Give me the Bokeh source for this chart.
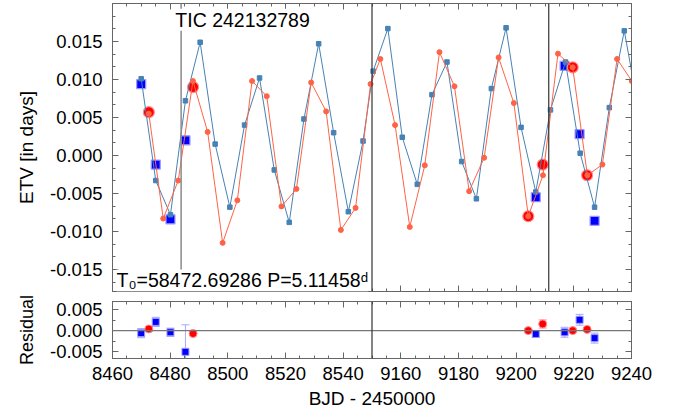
from bokeh.plotting import figure
from bokeh.layouts import column
from bokeh.models import (FixedTicker, LinearAxis, Span, Label, Whisker,
                          ColumnDataSource, TeeHead, Range1d)
from bokeh.embed import file_html
from bokeh.resources import INLINE

# ---------------- data (BJD - 2450000, days) ----------------
blue_model_x = [8469.95, 8475.0, 8480.1, 8485.3, 8490.4, 8495.6, 8500.7, 8505.8,
                8511.0, 8516.1, 8521.3, 8526.4, 8531.5, 8536.7, 8541.8, 8546.9,
                9150.4, 9155.5, 9160.5, 9165.7, 9170.8, 9176.0, 9181.1, 9186.2,
                9191.4, 9196.5, 9201.7, 9206.8, 9211.9, 9217.1, 9222.2, 9227.2,
                9232.3, 9237.5, 9242.6]
blue_model_y = [0.0101, -0.0033, -0.0078, 0.0072, 0.0149, 0.0015, -0.0068, 0.0040,
                0.0102, -0.0019, -0.0088, 0.0048, 0.0147, 0.0030, -0.0074, 0.0019,
                0.0111, 0.0167, 0.0024, -0.0038, 0.0080, 0.0123, -0.0008, -0.0057,
                0.0088, 0.0168, 0.0037, -0.0048, 0.0060, 0.0123, 0.0003, -0.0068,
                0.0063, 0.0164, 0.0057]
red_model_x = [8472.6, 8477.6, 8482.8, 8487.9, 8493.0, 8498.2, 8503.3, 8508.4,
               8513.5, 8518.6, 8523.8, 8528.9, 8534.1, 8539.2, 8544.3, 8549.5,
               9152.9, 9158.0, 9163.1, 9168.3, 9173.4, 9178.6, 9183.7, 9188.9,
               9193.9, 9199.2, 9204.2, 9209.3, 9214.5, 9219.6, 9224.7, 9229.9,
               9235.0, 9240.1]
red_model_y = [0.0055, -0.0083, -0.0033, 0.0098, 0.0031, -0.0115, -0.0059, 0.0098,
               0.0078, -0.0067, -0.0044, 0.0096, 0.0058, -0.0098, -0.0069, 0.0094,
               0.0127, 0.0040, -0.0094, -0.0013, 0.0136, 0.0091, -0.0047, -0.0003,
               0.0129, 0.0069, -0.0080, -0.0026, 0.0134, 0.0116, -0.0026, -0.0012,
               0.0127, 0.0098]

blue_obs_x = [8469.95, 8475.0, 8480.1, 8485.3, 9206.8, 9216.8, 9222.0, 9227.2]
blue_obs_y = [0.0094, -0.0012, -0.0084, 0.0020, -0.0055, 0.0118, 0.0028, -0.0086]
blue_res = [-0.0006, 0.0021, -0.0004, -0.0051, -0.0008, -0.0004, 0.0026, -0.0018]
blue_err = [0.0011, 0.0011, 0.0010, 0.0065, 0.0008, 0.0012, 0.0013, 0.0012]

red_obs_x = [8472.6, 8487.95, 9204.2, 9209.2, 9219.6, 9224.6]
red_obs_y = [0.0057, 0.0090, -0.0080, -0.0012, 0.0116, -0.0026]
red_res = [0.0004, -0.0007, 0.0000, 0.0016, 0.0000, 0.0003]
red_err = [0.0005, 0.0005, 0.0004, 0.0010, 0.0004, 0.0004]

x_ticks_left = [8460, 8480, 8500, 8520, 8540]
x_ticks_right = [9160, 9180, 9200, 9220, 9240]
etv_ticks = [-0.015, -0.010, -0.005, 0.000, 0.005, 0.010, 0.015]
res_ticks = [-0.005, 0.000, 0.005]
marker_line_left = 8483.8
marker_line_right = 9211.3
title_text = "TIC 242132789"
ephem_text = "T\u2080=58472.69286 P=5.11458\u1d48"

# ---------------- broken axis mapping ----------------
LEFT0, LEFT1 = 8460.0, 8550.0
RIGHT0, RIGHT1 = 9150.0, 9240.0


def tx(x):
    if x < 8800:
        return x - LEFT0
    return x - RIGHT0 + (LEFT1 - LEFT0)


def txs(xs):
    return [tx(v) for v in xs]


BREAK = LEFT1 - LEFT0
tick_pos = txs(x_ticks_left) + txs(x_ticks_right)
tick_lab = {tx(v): str(v) for v in x_ticks_left + x_ticks_right}
minor_pos = [float(i) for i in range(0, 181, 5)]
etv_minor = [round(-0.02 + i * 0.005 / 3, 6) for i in range(25)]
res_minor = [round(-0.0075 + i * 0.0025, 6) for i in range(7)]

FONT = "Liberation Sans"
FRAME = "#666666"
xr = Range1d(0, 180)


def style_axis(ax, labels=True):
    ax.axis_line_color = FRAME
    ax.major_tick_line_color = FRAME
    ax.minor_tick_line_color = FRAME
    ax.major_tick_in = 6
    ax.major_tick_out = 0
    ax.minor_tick_in = 3
    ax.minor_tick_out = 0
    if not labels:
        ax.major_label_text_font_size = "0px"
        ax.major_label_text_color = None
        ax.major_label_text_alpha = 0
        ax.major_label_standoff = 0
        ax.axis_label = None
    else:
        ax.major_label_text_font = FONT
        ax.major_label_text_font_size = "18.5px"
        ax.major_label_text_color = "black"
        ax.axis_label_text_font = FONT
        ax.axis_label_text_font_size = "19px"
        ax.axis_label_text_font_style = "normal"
        ax.axis_label_text_color = "black"


def x_ticker():
    return FixedTicker(ticks=tick_pos, minor_ticks=minor_pos)


# ---------------- top panel ----------------
p = figure(width=681, height=292, x_range=xr, y_range=Range1d(-0.0179, 0.0200),
           output_backend="svg", toolbar_location=None,
           min_border_left=112, min_border_right=50, min_border_top=3,
           min_border_bottom=1)
p.grid.visible = False
p.outline_line_color = FRAME

p.xaxis.ticker = x_ticker()
style_axis(p.xaxis[0], labels=False)
p.yaxis.ticker = FixedTicker(ticks=etv_ticks, minor_ticks=etv_minor)
style_axis(p.yaxis[0])
p.yaxis.axis_label = "ETV [in days]"
p.yaxis.major_label_standoff = 10
p.yaxis.axis_label_standoff = 10
p.yaxis.major_label_overrides = {t: f"{t:.3f}" for t in etv_ticks}

ax_top = LinearAxis(ticker=x_ticker())
style_axis(ax_top, labels=False)
p.add_layout(ax_top, "above")
ax_r = LinearAxis(ticker=FixedTicker(ticks=etv_ticks, minor_ticks=etv_minor))
style_axis(ax_r, labels=False)
p.add_layout(ax_r, "right")

p.add_layout(Span(location=tx(marker_line_left), dimension="height",
                  line_color="#8a8a8a", line_width=1.5))
p.add_layout(Span(location=BREAK, dimension="height", line_color="#333333", line_width=1.2))
p.add_layout(Span(location=tx(marker_line_right), dimension="height",
                  line_color="#333333", line_width=1.2))

# observed minima (big symbols)
p.scatter(txs(blue_obs_x), blue_obs_y, marker="square", size=9,
          fill_color="#0000ff", line_color="#9a9aff", line_width=1.2)
p.scatter(txs(red_obs_x), red_obs_y, marker="circle", size=11,
          fill_color="#ff0000", line_color="#ff8c8c", line_width=1.2)

# model curves
p.line(txs(blue_model_x), blue_model_y, line_color="#4682b4", line_width=1)
p.scatter(txs(blue_model_x), blue_model_y, marker="square", size=4.5,
          fill_color="#4682b4", line_color="#4682b4")
p.line(txs(red_model_x), red_model_y, line_color="#ff6347", line_width=1)
p.scatter(txs(red_model_x), red_model_y, marker="circle", size=5,
          fill_color="#ff6347", line_color="#ff6347")

p.add_layout(Label(x=45.1, y=0.01785, text=title_text, text_align="center",
                   text_baseline="middle", text_font=FONT, text_font_size="19.5px",
                   text_color="black", background_fill_color="white",
                   background_fill_alpha=1.0))
p.add_layout(Label(x=1.4, y=-0.01645, text=ephem_text, text_align="left",
                   text_baseline="alphabetic", text_font=FONT, text_font_size="19.5px",
                   text_color="black", background_fill_color="white",
                   background_fill_alpha=1.0))

# ---------------- residual panel ----------------
q = figure(width=681, height=128, x_range=xr, y_range=Range1d(-0.0067, 0.0070),
           output_backend="svg", toolbar_location=None,
           min_border_left=112, min_border_right=50, min_border_top=9,
           min_border_bottom=62)
q.grid.visible = False
q.outline_line_color = FRAME

q.xaxis.ticker = x_ticker()
q.xaxis.major_label_overrides = tick_lab
style_axis(q.xaxis[0])
q.xaxis.axis_label = "BJD - 2450000"
q.xaxis.major_label_standoff = 8
q.xaxis.axis_label_standoff = 5

q.yaxis.ticker = FixedTicker(ticks=res_ticks, minor_ticks=res_minor)
style_axis(q.yaxis[0])
q.yaxis.axis_label = "Residual"
q.yaxis.axis_label_text_font_size = "18px"
q.yaxis.major_label_standoff = 10
q.yaxis.axis_label_standoff = 10
q.yaxis.major_label_overrides = {t: f"{t:.3f}" for t in res_ticks}

qa = LinearAxis(ticker=x_ticker())
style_axis(qa, labels=False)
q.add_layout(qa, "above")
qr = LinearAxis(ticker=FixedTicker(ticks=res_ticks, minor_ticks=res_minor))
style_axis(qr, labels=False)
q.add_layout(qr, "right")

q.add_layout(Span(location=0, dimension="width", line_color="#777777", line_width=1.2))
q.add_layout(Span(location=BREAK, dimension="height", line_color="#333333", line_width=1.2))

bsrc = ColumnDataSource(dict(x=txs(blue_obs_x), y=blue_res,
                             lo=[r - e for r, e in zip(blue_res, blue_err)],
                             hi=[r + e for r, e in zip(blue_res, blue_err)]))
rsrc = ColumnDataSource(dict(x=txs(red_obs_x), y=red_res,
                             lo=[r - e for r, e in zip(red_res, red_err)],
                             hi=[r + e for r, e in zip(red_res, red_err)]))
q.add_layout(Whisker(source=bsrc, base="x", lower="lo", upper="hi",
                     line_color="#a8a8ff", line_width=1,
                     upper_head=TeeHead(size=8, line_color="#a8a8ff"),
                     lower_head=TeeHead(size=8, line_color="#a8a8ff")))
q.add_layout(Whisker(source=rsrc, base="x", lower="lo", upper="hi",
                     line_color="#ffa0a0", line_width=1,
                     upper_head=TeeHead(size=8, line_color="#ffa0a0"),
                     lower_head=TeeHead(size=8, line_color="#ffa0a0")))
q.scatter("x", "y", source=bsrc, marker="square", size=7,
          fill_color="#0000ff", line_color="#9a9aff", line_width=1)
q.scatter("x", "y", source=rsrc, marker="circle", size=8,
          fill_color="#ff0000", line_color="#ff8c8c", line_width=1)

layout = column(p, q, spacing=0)
open("out.html", "w").write(file_html(layout, INLINE))
